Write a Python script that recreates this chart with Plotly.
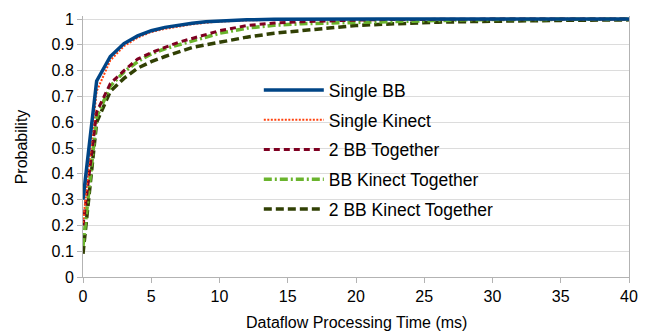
import plotly.graph_objects as go

x_ms = [0, 1, 2, 3, 4, 5, 6, 7, 8, 9, 10, 12, 14, 16, 18, 20, 22, 24, 26, 28, 30, 35, 40]

single_bb = [0.30, 0.76, 0.855, 0.905, 0.935, 0.955, 0.968, 0.977, 0.984, 0.99, 0.993, 0.997, 0.999, 1, 1, 1, 1, 1, 1, 1, 1, 1, 1]
single_kinect = [0.21, 0.72, 0.84, 0.895, 0.928, 0.95, 0.962, 0.972, 0.98, 0.986, 0.99, 0.995, 0.998, 0.999, 1, 1, 1, 1, 1, 1, 1, 1, 1]
two_bb = [0.20, 0.64, 0.75, 0.80, 0.845, 0.87, 0.89, 0.91, 0.925, 0.94, 0.955, 0.975, 0.985, 0.99, 0.994, 0.996, 0.998, 0.999, 1, 1, 1, 1, 1]
bb_kinect = [0.12, 0.62, 0.74, 0.795, 0.835, 0.865, 0.885, 0.90, 0.915, 0.93, 0.945, 0.965, 0.976, 0.982, 0.985, 0.987, 0.99, 0.993, 0.995, 0.997, 0.998, 1, 1]
two_bb_kinect = [0.09, 0.60, 0.72, 0.77, 0.81, 0.835, 0.855, 0.873, 0.89, 0.90, 0.91, 0.93, 0.945, 0.955, 0.966, 0.975, 0.98, 0.985, 0.988, 0.99, 0.992, 0.995, 0.997]

series_names = ["Single BB", "Single Kinect", "2 BB Together", "BB Kinect Together", "2 BB Kinect Together"]
y_ticks = [0, 0.1, 0.2, 0.3, 0.4, 0.5, 0.6, 0.7, 0.8, 0.9, 1]
y_tick_text = ["0", "0.1", "0.2", "0.3", "0.4", "0.5", "0.6", "0.7", "0.8", "0.9", "1"]
x_ticks = [0, 5, 10, 15, 20, 25, 30, 35, 40]
x_title = "Dataflow Processing Time (ms)"
y_title = "Probability"

styles = [
    dict(color="#004586", width=3.5, dash="solid"),
    dict(color="#ff420e", width=2, dash="2px,1.5px"),
    dict(color="#7e0021", width=3, dash="6px,4px"),
    dict(color="#6ab42d", width=3.5, dash="8px,3px,2px,3px"),
    dict(color="#314004", width=3.5, dash="8px,4px"),
]
data = [single_bb, single_kinect, two_bb, bb_kinect, two_bb_kinect]

fig = go.Figure()
# draw in reverse so Single BB is on top, legend order kept via legendrank
for i in reversed(range(len(data))):
    fig.add_trace(go.Scatter(
        x=x_ms, y=data[i], mode="lines", name=series_names[i],
        line=styles[i], legendgroup=f"g{i}", legendrank=i + 1,
    ))

fig.update_layout(
    width=650, height=332,
    margin=dict(l=83, r=21, t=16, b=55),
    paper_bgcolor="white", plot_bgcolor="white",
    font=dict(family="Liberation Sans, Arial, sans-serif", size=16, color="#000000"),
    showlegend=True,
    legend=dict(
        x=0.322, y=0.785, xanchor="left", yanchor="top",
        font=dict(size=17.5, color="#000000"),
        tracegroupgap=4, bgcolor="rgba(0,0,0,0)",
        itemwidth=60,
    ),
    xaxis=dict(
        range=[0, 40], tickvals=x_ticks, showgrid=False,
        showline=True, linecolor="#b3b3b3", linewidth=1,
        ticks="outside", ticklen=5, tickcolor="#b3b3b3",
        zeroline=False, automargin=False,
    ),
    yaxis=dict(
        range=[0, 1.012], tickvals=y_ticks, ticktext=y_tick_text,
        showgrid=True, gridcolor="#dcdcdc", gridwidth=1,
        showline=True, linecolor="#b3b3b3", linewidth=1, mirror=True,
        ticks="outside", ticklen=5, tickcolor="#b3b3b3",
        zeroline=False, automargin=False,
    ),
    annotations=[
        dict(text=x_title, xref="paper", yref="paper", x=0.5, y=-0.176,
             xanchor="center", yanchor="middle", showarrow=False,
             font=dict(size=16, color="#000000")),
        dict(text=y_title, xref="paper", yref="paper", x=-0.112, y=0.5,
             xanchor="center", yanchor="middle", showarrow=False, textangle=-90,
             font=dict(size=16, color="#000000")),
    ],
)

fig.write_html("out.html")
